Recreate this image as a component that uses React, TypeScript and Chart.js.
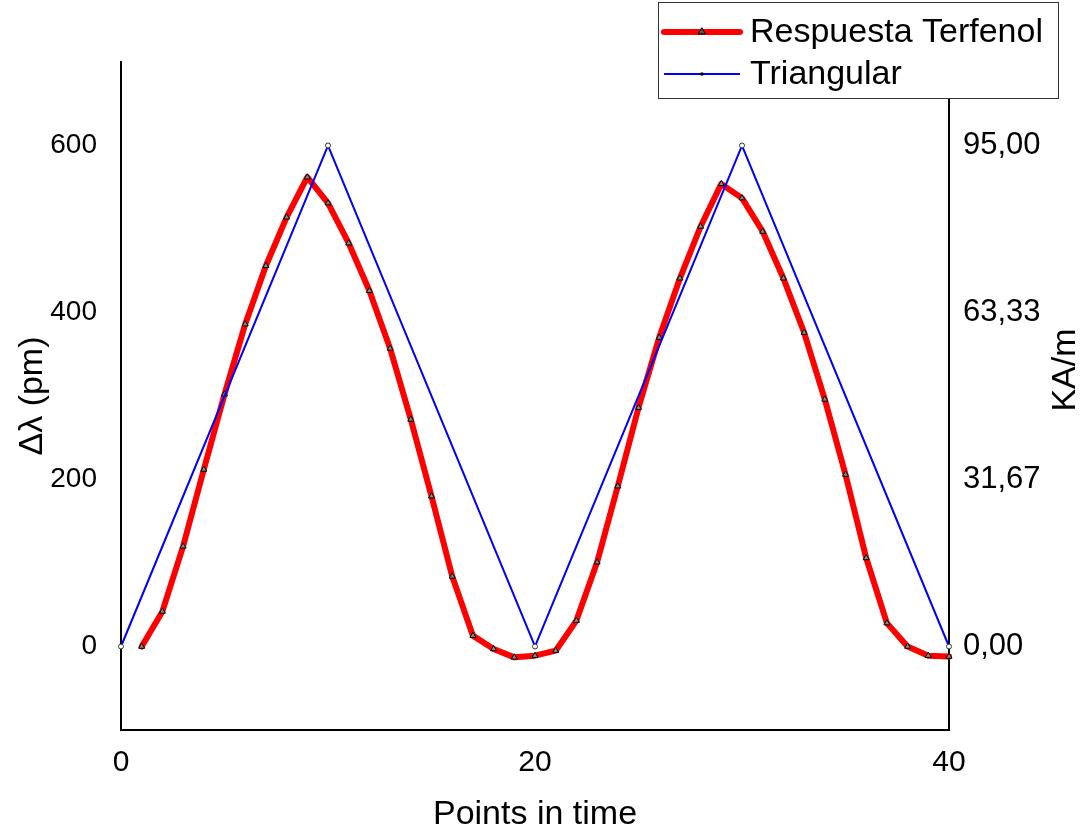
import React, { useEffect, useRef } from "react";
import { Chart, registerables } from "chart.js";

Chart.register(...registerables);

// ---- Data ----
const terfenolX = [1, 2, 3, 4, 5, 6, 7, 8, 9, 10, 11, 12, 13, 14, 15, 16, 17, 18, 19, 20, 21, 22, 23, 24, 25, 26, 27, 28, 29, 30, 31, 32, 33, 34, 35, 36, 37, 38, 39, 40];
const terfenolY = [0, 42, 120, 212, 302, 386, 456, 514, 562, 531, 483, 426, 357, 272, 180, 84, 13, -3, -13, -11, -5, 31, 101, 192, 286, 370, 441, 503, 554, 537, 497, 441, 376, 296, 206, 106, 28, 0, -11, -12];
const triangularX = [0, 10, 20, 30, 40];
const triangularY = [0, 95, 0, 95, 0];

const xTicks = [0, 20, 40];
const leftTicks = [0, 200, 400, 600];
const rightTickValues = [0, 31.6667, 63.3333, 95];
const rightTickLabels = ["0,00", "31,67", "63,33", "95,00"];

const seriesLabels = ["Respuesta Terfenol", "Triangular"];
const xTitle = "Points in time";
const leftTitle = "\u0394\u03bb (pm)";
const rightTitle = "KA/m";

const FONT = "'Liberation Sans', Arial, sans-serif";

const overlayPlugin = {
  id: "overlay",
  afterDraw(chart: any) {
    const ctx = chart.ctx as CanvasRenderingContext2D;
    ctx.save();
    // right axis title (rotated like left)
    ctx.font = `34px ${FONT}`;
    ctx.fillStyle = "#000";
    ctx.textAlign = "center";
    ctx.textBaseline = "middle";
    ctx.translate(1066, 370);
    ctx.rotate(-Math.PI / 2);
    ctx.fillText(rightTitle, 0, 0);
    ctx.restore();

    // legend box
    ctx.save();
    ctx.fillStyle = "#fff";
    ctx.fillRect(658.5, 2.5, 400, 96);
    ctx.strokeStyle = "#333";
    ctx.lineWidth = 1;
    ctx.strokeRect(658.5, 2.5, 400, 96);

    // red entry
    ctx.strokeStyle = "#ff0000";
    ctx.lineWidth = 6;
    ctx.lineCap = "round";
    ctx.beginPath();
    ctx.moveTo(664, 32);
    ctx.lineTo(740, 32);
    ctx.stroke();
    ctx.fillStyle = "#555";
    ctx.strokeStyle = "#000";
    ctx.lineWidth = 1;
    ctx.beginPath();
    ctx.moveTo(702, 28);
    ctx.lineTo(705.5, 34);
    ctx.lineTo(698.5, 34);
    ctx.closePath();
    ctx.fill();
    ctx.stroke();

    // blue entry
    ctx.strokeStyle = "#0000ff";
    ctx.lineWidth = 2;
    ctx.lineCap = "butt";
    ctx.beginPath();
    ctx.moveTo(664, 74);
    ctx.lineTo(740, 74);
    ctx.stroke();
    ctx.fillStyle = "#000";
    ctx.beginPath();
    ctx.arc(702, 74, 1.8, 0, Math.PI * 2);
    ctx.fill();

    ctx.font = `34px ${FONT}`;
    ctx.fillStyle = "#000";
    ctx.textAlign = "left";
    ctx.textBaseline = "middle";
    ctx.fillText(seriesLabels[0], 750, 33);
    ctx.fillText(seriesLabels[1], 750, 75);
    ctx.restore();
  },
};

export default function App() {
  const canvasRef = useRef<HTMLCanvasElement | null>(null);

  useEffect(() => {
    document.body.style.margin = "0";
    const canvas = canvasRef.current;
    if (!canvas) return;
    const chart = new Chart(canvas, {
      type: "line",
      data: {
        datasets: [
          {
            label: seriesLabels[1],
            data: triangularX.map((x, i) => ({ x, y: triangularY[i] })),
            yAxisID: "y2",
            borderColor: "#0000ff",
            borderWidth: 2,
            pointStyle: "circle",
            pointRadius: 2.5,
            pointBackgroundColor: "#ffffff",
            pointBorderColor: "#333",
            pointBorderWidth: 1,
            tension: 0,
            order: 0,
            clip: false,
          } as any,
          {
            label: seriesLabels[0],
            data: terfenolX.map((x, i) => ({ x, y: terfenolY[i] })),
            yAxisID: "y",
            borderColor: "#ff0000",
            borderWidth: 6,
            borderJoinStyle: "round",
            borderCapStyle: "round",
            pointStyle: "triangle",
            pointRadius: 3.5,
            pointBackgroundColor: "#888",
            pointBorderColor: "#000",
            pointBorderWidth: 1,
            tension: 0,
            order: 1,
            clip: false,
          } as any,
        ],
      },
      options: {
        animation: false,
        responsive: false,
        maintainAspectRatio: false,
        layout: { padding: { top: 62, left: 0, right: 0, bottom: 0 } },
        plugins: {
          legend: { display: false },
          tooltip: { enabled: false },
        },
        scales: {
          x: {
            type: "linear",
            position: "bottom",
            min: 0,
            max: 40,
            grid: { display: false, drawTicks: false },
            border: { display: true, color: "#000", width: 2 },
            afterBuildTicks: (s: any) => {
              s.ticks = xTicks.map((v) => ({ value: v }));
            },
            afterFit: (s: any) => {
              s.height = 102;
            },
            ticks: {
              color: "#000",
              font: { family: FONT, size: 30 },
              padding: 15,
              maxRotation: 0,
              callback: (v: any) => String(v),
            },
            title: {
              display: true,
              text: xTitle,
              color: "#000",
              font: { family: FONT, size: 34, lineHeight: 1 },
              padding: { top: 0, bottom: 0 },
            },
          },
          y: {
            type: "linear",
            position: "left",
            min: -100,
            max: 700,
            grid: { display: false, drawTicks: false },
            border: { display: true, color: "#000", width: 2 },
            afterBuildTicks: (s: any) => {
              s.ticks = leftTicks.map((v) => ({ value: v }));
            },
            afterFit: (s: any) => {
              s.width = 121;
            },
            ticks: {
              color: "#000",
              font: { family: FONT, size: 28 },
              padding: 24,
              callback: (v: any) => String(v),
            },
            title: {
              display: true,
              text: leftTitle,
              color: "#000",
              font: { family: FONT, size: 34, lineHeight: 1 },
              padding: { top: 16, bottom: 0 },
            },
          },
          y2: {
            type: "linear",
            position: "right",
            min: -15.8333,
            max: 110.8333,
            grid: { display: false, drawTicks: false },
            border: { display: true, color: "#000", width: 2 },
            afterBuildTicks: (s: any) => {
              s.ticks = rightTickValues.map((v) => ({ value: v }));
            },
            afterFit: (s: any) => {
              s.width = 137;
            },
            ticks: {
              color: "#000",
              font: { family: FONT, size: 31 },
              padding: 14,
              callback: (_v: any, i: number) => rightTickLabels[i],
            },
          },
        },
      },
      plugins: [overlayPlugin],
    } as any);
    return () => chart.destroy();
  }, []);

  return (
    <div style={{ width: 1086, height: 832, position: "relative" }}>
      <canvas ref={canvasRef} width={1086} height={832} style={{ display: "block" }} />
    </div>
  );
}
